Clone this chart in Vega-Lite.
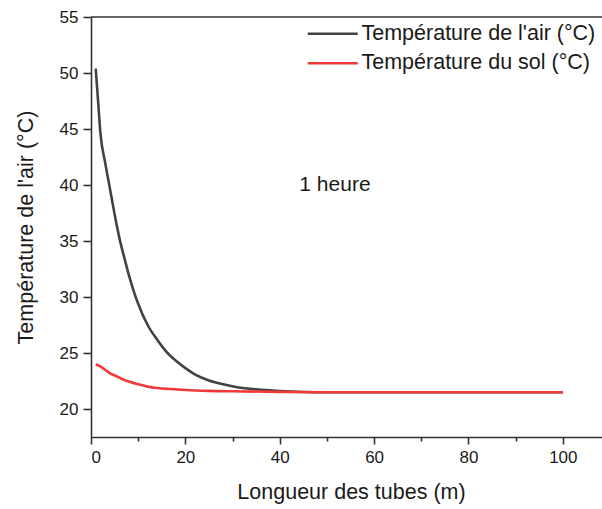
{
  "$schema": "https://vega.github.io/schema/vega-lite/v6.json",
  "autosize": {"type": "none"},
  "padding": {"left": 91, "top": 17, "right": 0, "bottom": 72},
  "width": 511,
  "height": 420,
  "background": "#ffffff",
  "config": {
    "view": {"stroke": null},
    "font": "Liberation Sans",
    "axis": {
      "domainColor": "#333333",
      "domainWidth": 1.6,
      "tickColor": "#333333",
      "tickWidth": 1.6,
      "labelFont": "Liberation Sans",
      "labelFontSize": 17,
      "labelColor": "#1a1a1a",
      "titleFont": "Liberation Sans",
      "titleFontSize": 21.5,
      "titleFontWeight": "normal",
      "titleColor": "#1a1a1a",
      "grid": false
    }
  },
  "datasets": {
    "series": [
      {"longueur": 1, "temp": 50.4, "serie": "Température de l'air (°C)"},
      {"longueur": 1.5, "temp": 47.5, "serie": "Température de l'air (°C)"},
      {"longueur": 2, "temp": 44.6, "serie": "Température de l'air (°C)"},
      {"longueur": 3, "temp": 42.0, "serie": "Température de l'air (°C)"},
      {"longueur": 4, "temp": 39.7, "serie": "Température de l'air (°C)"},
      {"longueur": 5, "temp": 37.4, "serie": "Température de l'air (°C)"},
      {"longueur": 6, "temp": 35.3, "serie": "Température de l'air (°C)"},
      {"longueur": 7, "temp": 33.6, "serie": "Température de l'air (°C)"},
      {"longueur": 8, "temp": 32.0, "serie": "Température de l'air (°C)"},
      {"longueur": 9, "temp": 30.6, "serie": "Température de l'air (°C)"},
      {"longueur": 10, "temp": 29.4, "serie": "Température de l'air (°C)"},
      {"longueur": 12, "temp": 27.5, "serie": "Température de l'air (°C)"},
      {"longueur": 14, "temp": 26.2, "serie": "Température de l'air (°C)"},
      {"longueur": 16, "temp": 25.1, "serie": "Température de l'air (°C)"},
      {"longueur": 18, "temp": 24.3, "serie": "Température de l'air (°C)"},
      {"longueur": 20, "temp": 23.65, "serie": "Température de l'air (°C)"},
      {"longueur": 22, "temp": 23.1, "serie": "Température de l'air (°C)"},
      {"longueur": 25, "temp": 22.55, "serie": "Température de l'air (°C)"},
      {"longueur": 28, "temp": 22.2, "serie": "Température de l'air (°C)"},
      {"longueur": 31, "temp": 21.95, "serie": "Température de l'air (°C)"},
      {"longueur": 35, "temp": 21.75, "serie": "Température de l'air (°C)"},
      {"longueur": 40, "temp": 21.6, "serie": "Température de l'air (°C)"},
      {"longueur": 45, "temp": 21.52, "serie": "Température de l'air (°C)"},
      {"longueur": 50, "temp": 21.5, "serie": "Température de l'air (°C)"},
      {"longueur": 100, "temp": 21.5, "serie": "Température de l'air (°C)"},
      {"longueur": 1, "temp": 24.0, "serie": "Température du sol (°C)"},
      {"longueur": 2, "temp": 23.8, "serie": "Température du sol (°C)"},
      {"longueur": 3, "temp": 23.5, "serie": "Température du sol (°C)"},
      {"longueur": 4, "temp": 23.2, "serie": "Température du sol (°C)"},
      {"longueur": 5, "temp": 23.0, "serie": "Température du sol (°C)"},
      {"longueur": 6, "temp": 22.8, "serie": "Température du sol (°C)"},
      {"longueur": 7, "temp": 22.6, "serie": "Température du sol (°C)"},
      {"longueur": 8, "temp": 22.45, "serie": "Température du sol (°C)"},
      {"longueur": 10, "temp": 22.2, "serie": "Température du sol (°C)"},
      {"longueur": 12, "temp": 22.0, "serie": "Température du sol (°C)"},
      {"longueur": 14, "temp": 21.88, "serie": "Température du sol (°C)"},
      {"longueur": 17, "temp": 21.78, "serie": "Température du sol (°C)"},
      {"longueur": 20, "temp": 21.7, "serie": "Température du sol (°C)"},
      {"longueur": 25, "temp": 21.62, "serie": "Température du sol (°C)"},
      {"longueur": 30, "temp": 21.58, "serie": "Température du sol (°C)"},
      {"longueur": 40, "temp": 21.53, "serie": "Température du sol (°C)"},
      {"longueur": 50, "temp": 21.5, "serie": "Température du sol (°C)"},
      {"longueur": 100, "temp": 21.5, "serie": "Température du sol (°C)"}
    ]
  },
  "layer": [
    {
      "data": {"name": "series"},
      "mark": {"type": "line", "strokeWidth": 2.6, "interpolate": "monotone", "clip": true},
      "encoding": {
        "x": {
          "field": "longueur",
          "type": "quantitative",
          "scale": {"domain": [0, 108.3], "nice": false, "zero": false},
          "axis": {
            "orient": "bottom",
            "title": "Longueur des tubes (m)",
            "values": [0, 10, 20, 30, 40, 50, 60, 70, 80, 90, 100],
            "labelExpr": "datum.value % 20 === 0 ? datum.label : ''",
            "tickSize": {"condition": {"test": "datum.value % 20 === 0", "value": 7}, "value": 4},
            "labelPadding": 5,
            "titleX": 260,
            "titleY": 61,
            "titleBaseline": "alphabetic",
            "titleAnchor": null,
            "titleAlign": "center"
          }
        },
        "y": {
          "field": "temp",
          "type": "quantitative",
          "scale": {"domain": [17.5, 55], "nice": false, "zero": false},
          "axis": {
            "title": "Température de l'air (°C)",
            "values": [22.5, 25, 27.5, 30, 32.5, 35, 37.5, 40, 42.5, 45, 47.5, 50, 52.5, 55, 20],
            "labelExpr": "datum.value % 5 === 0 ? datum.label : ''",
            "tickSize": {"condition": {"test": "datum.value % 5 === 0", "value": 8}, "value": 5},
            "labelPadding": 5,
            "titlePadding": 22
          }
        },
        "color": {
          "field": "serie",
          "type": "nominal",
          "scale": {
            "domain": ["Température de l'air (°C)", "Température du sol (°C)"],
            "range": ["#424242", "#f03a3a"]
          },
          "legend": {
            "title": null,
            "orient": "none",
            "legendX": 231,
            "legendY": 6,
            "padding": 0,
            "symbolType": "M-5,0L5,0",
            "symbolSize": 100,
            "symbolStrokeWidth": 2.6,
            "symbolFillColor": "transparent",
            "labelFont": "Liberation Sans",
            "labelFontSize": 21.5,
            "labelColor": "#1a1a1a",
            "labelOffset": 18,
            "rowPadding": 6.5,
            "labelLimit": 400
          }
        }
      }
    },
    {
      "data": {"values": [{"label": "1 heure"}]},
      "mark": {"type": "text", "fontSize": 21, "font": "Liberation Sans", "color": "#1a1a1a", "align": "center", "baseline": "middle"},
      "encoding": {
        "x": {"datum": 51.7, "type": "quantitative"},
        "y": {"datum": 40, "type": "quantitative"},
        "text": {"field": "label"}
      }
    },
    {
      "data": {"values": [{"t": 0}]},
      "mark": {"type": "rule", "color": "#333333", "strokeWidth": 1.6},
      "encoding": {
        "y": {"datum": 55, "type": "quantitative"}
      }
    }
  ]
}
